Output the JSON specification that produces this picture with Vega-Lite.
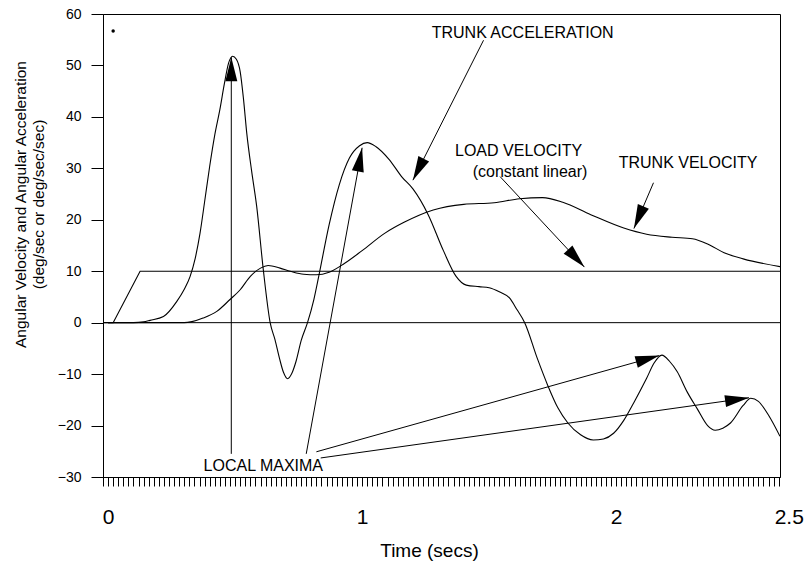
{
  "$schema": "https://vega.github.io/schema/vega-lite/v6.json",
  "width": 677,
  "height": 463,
  "autosize": {"type": "none"},
  "padding": {"left": 103, "top": 14, "right": 24, "bottom": 86},
  "background": "white",
  "config": {
    "view": {"stroke": "black", "strokeWidth": 1},
    "font": "Liberation Sans",
    "axis": {"labelFont": "Liberation Sans", "titleFont": "Liberation Sans"}
  },
  "datasets": {
    "curves": [
      {"s": "ta", "t": 0, "v": 0}, {"s": "ta", "t": 0.1, "v": 0}, {"s": "ta", "t": 0.14, "v": 0.15}, {"s": "ta", "t": 0.165, "v": 0.45},
      {"s": "ta", "t": 0.218, "v": 1.2}, {"s": "ta", "t": 0.27, "v": 4.1}, {"s": "ta", "t": 0.3, "v": 6.5}, {"s": "ta", "t": 0.323, "v": 9},
      {"s": "ta", "t": 0.343, "v": 12.5}, {"s": "ta", "t": 0.362, "v": 17.4}, {"s": "ta", "t": 0.38, "v": 23.5}, {"s": "ta", "t": 0.4, "v": 30.4},
      {"s": "ta", "t": 0.42, "v": 36.5}, {"s": "ta", "t": 0.44, "v": 41.4}, {"s": "ta", "t": 0.458, "v": 46.5}, {"s": "ta", "t": 0.474, "v": 50.4},
      {"s": "ta", "t": 0.49, "v": 51.8}, {"s": "ta", "t": 0.505, "v": 51.2}, {"s": "ta", "t": 0.52, "v": 48.8}, {"s": "ta", "t": 0.533, "v": 43.5},
      {"s": "ta", "t": 0.546, "v": 36.8}, {"s": "ta", "t": 0.565, "v": 29.5}, {"s": "ta", "t": 0.585, "v": 22.6}, {"s": "ta", "t": 0.611, "v": 10.3},
      {"s": "ta", "t": 0.638, "v": 0}, {"s": "ta", "t": 0.657, "v": -3.3}, {"s": "ta", "t": 0.675, "v": -7}, {"s": "ta", "t": 0.69, "v": -9.6},
      {"s": "ta", "t": 0.707, "v": -10.9}, {"s": "ta", "t": 0.722, "v": -10}, {"s": "ta", "t": 0.74, "v": -7.5}, {"s": "ta", "t": 0.76, "v": -3.5},
      {"s": "ta", "t": 0.785, "v": 0}, {"s": "ta", "t": 0.81, "v": 4.5}, {"s": "ta", "t": 0.83, "v": 9.2}, {"s": "ta", "t": 0.87, "v": 19},
      {"s": "ta", "t": 0.91, "v": 26.8}, {"s": "ta", "t": 0.95, "v": 32}, {"s": "ta", "t": 0.99, "v": 34.4}, {"s": "ta", "t": 1.02, "v": 35},
      {"s": "ta", "t": 1.055, "v": 34.2}, {"s": "ta", "t": 1.105, "v": 31.8}, {"s": "ta", "t": 1.157, "v": 28.3}, {"s": "ta", "t": 1.2, "v": 26},
      {"s": "ta", "t": 1.26, "v": 21}, {"s": "ta", "t": 1.32, "v": 14}, {"s": "ta", "t": 1.37, "v": 9}, {"s": "ta", "t": 1.41, "v": 7.3},
      {"s": "ta", "t": 1.46, "v": 7}, {"s": "ta", "t": 1.5, "v": 6.8}, {"s": "ta", "t": 1.54, "v": 6}, {"s": "ta", "t": 1.58, "v": 4.8},
      {"s": "ta", "t": 1.61, "v": 2.5}, {"s": "ta", "t": 1.64, "v": 0}, {"s": "ta", "t": 1.69, "v": -7}, {"s": "ta", "t": 1.73, "v": -12.1},
      {"s": "ta", "t": 1.77, "v": -16.5}, {"s": "ta", "t": 1.81, "v": -19.5}, {"s": "ta", "t": 1.86, "v": -21.8}, {"s": "ta", "t": 1.91, "v": -22.8},
      {"s": "ta", "t": 1.95, "v": -22.6}, {"s": "ta", "t": 1.99, "v": -21.5}, {"s": "ta", "t": 2.03, "v": -19}, {"s": "ta", "t": 2.07, "v": -15.5},
      {"s": "ta", "t": 2.12, "v": -10.8}, {"s": "ta", "t": 2.15, "v": -7.8}, {"s": "ta", "t": 2.18, "v": -6.3}, {"s": "ta", "t": 2.21, "v": -7.5},
      {"s": "ta", "t": 2.24, "v": -9.5}, {"s": "ta", "t": 2.28, "v": -13.5}, {"s": "ta", "t": 2.32, "v": -16.8}, {"s": "ta", "t": 2.36, "v": -20},
      {"s": "ta", "t": 2.39, "v": -20.9}, {"s": "ta", "t": 2.42, "v": -20.5}, {"s": "ta", "t": 2.45, "v": -19.5}, {"s": "ta", "t": 2.5, "v": -16.1},
      {"s": "ta", "t": 2.53, "v": -14.7}, {"s": "ta", "t": 2.56, "v": -15.3}, {"s": "ta", "t": 2.6, "v": -18}, {"s": "ta", "t": 2.645, "v": -22.1},
      {"s": "tv", "t": 0, "v": 0}, {"s": "tv", "t": 0.3, "v": 0}, {"s": "tv", "t": 0.33, "v": 0.2}, {"s": "tv", "t": 0.374, "v": 0.9},
      {"s": "tv", "t": 0.428, "v": 2.2}, {"s": "tv", "t": 0.48, "v": 4.5}, {"s": "tv", "t": 0.52, "v": 6.4}, {"s": "tv", "t": 0.56, "v": 9},
      {"s": "tv", "t": 0.6, "v": 10.6}, {"s": "tv", "t": 0.63, "v": 11.1}, {"s": "tv", "t": 0.677, "v": 10.6}, {"s": "tv", "t": 0.717, "v": 10},
      {"s": "tv", "t": 0.77, "v": 9.4}, {"s": "tv", "t": 0.82, "v": 9.3}, {"s": "tv", "t": 0.87, "v": 9.8}, {"s": "tv", "t": 0.93, "v": 11.5},
      {"s": "tv", "t": 1.0, "v": 14}, {"s": "tv", "t": 1.09, "v": 17.4}, {"s": "tv", "t": 1.165, "v": 19.5}, {"s": "tv", "t": 1.28, "v": 21.9},
      {"s": "tv", "t": 1.4, "v": 23}, {"s": "tv", "t": 1.52, "v": 23.3}, {"s": "tv", "t": 1.62, "v": 24.1}, {"s": "tv", "t": 1.71, "v": 24.3},
      {"s": "tv", "t": 1.79, "v": 23.4}, {"s": "tv", "t": 1.9, "v": 21}, {"s": "tv", "t": 2.03, "v": 18.4}, {"s": "tv", "t": 2.12, "v": 17.2},
      {"s": "tv", "t": 2.22, "v": 16.6}, {"s": "tv", "t": 2.3, "v": 16.3}, {"s": "tv", "t": 2.36, "v": 15.3}, {"s": "tv", "t": 2.425, "v": 13.6},
      {"s": "tv", "t": 2.5, "v": 12.4}, {"s": "tv", "t": 2.645, "v": 10.9}
    ],
    "load": [
      {"t": -0.02, "v": 0}, {"t": 0.02, "v": 0}, {"t": 0.126, "v": 10}, {"t": 2.645, "v": 10}
    ],
    "arrows": [
      {"x0": 0.485, "y0": -25.5, "x1": 0.485, "y1": 51.6},
      {"x0": 0.78, "y0": -25.5, "x1": 1.0, "y1": 34},
      {"x0": 0.82, "y0": -25.1, "x1": 2.17, "y1": -6.4},
      {"x0": 0.837, "y0": -26.3, "x1": 2.523, "y1": -14.6},
      {"x0": 1.478, "y0": 54.9, "x1": 1.2, "y1": 27.7},
      {"x0": 1.543, "y0": 28.4, "x1": 1.875, "y1": 10.8},
      {"x0": 2.147, "y0": 27.2, "x1": 2.07, "y1": 18.3}
    ],
    "labels": [
      {"label": "TRUNK ACCELERATION", "t": 1.632, "v": 56.4},
      {"label": "LOAD VELOCITY", "t": 1.616, "v": 33.4},
      {"label": "(constant linear)", "t": 1.661, "v": 29.3},
      {"label": "TRUNK VELOCITY", "t": 2.283, "v": 31.1},
      {"label": "LOCAL MAXIMA", "t": 0.611, "v": -27.9}
    ],
    "dot": [{"t": 0.02, "v": 56.7}],
    "zero": [{"v": 0}]
  },
  "layer": [
    {
      "data": {"name": "curves"},
      "mark": {"type": "line", "color": "black", "strokeWidth": 1.1, "interpolate": "monotone", "clip": true},
      "encoding": {
        "x": {
          "field": "t", "type": "quantitative",
          "scale": {"domain": [-0.02, 2.645], "nice": false, "zero": false},
          "axis": {
            "title": "Time (secs)", "tickCount": 133, "grid": false,
            "domainColor": "black", "tickColor": "black", "tickSize": 9, "tickWidth": 1,
            "labelExpr": "abs(datum.value) < 0.001 ? '0' : abs(datum.value - 1) < 0.001 ? '1' : abs(datum.value - 2) < 0.001 ? '2' : datum.value > 2.63 ? '2.5' : ''",
            "labelFlush": false, "labelOverlap": false, "labelBound": false,
            "labelFontSize": 21, "labelColor": "black", "labelPadding": 20,
            "labelOffset": {"condition": {"test": "datum.value > 2.63", "value": 10}, "value": 0},
            "titleFontSize": 19, "titleFontWeight": "normal", "titleColor": "black",
            "titleX": 326, "titleY": 73, "titleBaseline": "middle", "titleAlign": "center"
          }
        },
        "y": {
          "field": "v", "type": "quantitative",
          "scale": {"domain": [-30, 60], "nice": false, "zero": false},
          "axis": {
            "title": ["Angular Velocity and Angular Acceleration", "(deg/sec or deg/sec/sec)"],
            "tickCount": 9, "grid": false,
            "domainColor": "black", "tickColor": "black", "tickSize": 12, "tickWidth": 1,
            "labelFontSize": 14, "labelColor": "black", "labelPadding": 10,
            "titleFontSize": 15.5, "titleFontWeight": "normal", "titleColor": "black",
            "titleX": -83, "titleY": 190, "titleBaseline": "middle", "titleLineHeight": 18, "titleAngle": -90, "titleAlign": "center"
          }
        },
        "detail": {"field": "s", "type": "nominal"}
      }
    },
    {
      "data": {"name": "zero"},
      "mark": {"type": "rule", "color": "black", "strokeWidth": 1},
      "encoding": {
        "y": {"field": "v", "type": "quantitative", "scale": {"domain": [-30, 60], "nice": false, "zero": false}}
      }
    },
    {
      "data": {"name": "load"},
      "mark": {"type": "line", "color": "black", "strokeWidth": 1.1, "clip": true},
      "encoding": {
        "x": {"field": "t", "type": "quantitative", "scale": {"domain": [-0.02, 2.645], "nice": false, "zero": false}},
        "y": {"field": "v", "type": "quantitative", "scale": {"domain": [-30, 60], "nice": false, "zero": false}}
      }
    },
    {
      "data": {"name": "arrows"},
      "mark": {"type": "rule", "color": "black", "strokeWidth": 1},
      "encoding": {
        "x": {"field": "x0", "type": "quantitative", "scale": {"domain": [-0.02, 2.645], "nice": false, "zero": false}},
        "y": {"field": "y0", "type": "quantitative", "scale": {"domain": [-30, 60], "nice": false, "zero": false}},
        "x2": {"field": "x1"},
        "y2": {"field": "y1"}
      }
    },
    {
      "data": {"name": "arrows"},
      "transform": [
        {"calculate": "atan2((datum.x1 - datum.x0) * 254, (datum.y1 - datum.y0) * 5.144) * 180 / PI", "as": "ang"}
      ],
      "mark": {"type": "point", "shape": "M0,0L0.5,2L-0.5,2Z", "filled": true, "color": "black", "opacity": 1, "size": 576, "strokeWidth": 0},
      "encoding": {
        "x": {"field": "x1", "type": "quantitative", "scale": {"domain": [-0.02, 2.645], "nice": false, "zero": false}},
        "y": {"field": "y1", "type": "quantitative", "scale": {"domain": [-30, 60], "nice": false, "zero": false}},
        "angle": {"field": "ang", "type": "quantitative", "scale": null}
      }
    },
    {
      "data": {"name": "labels"},
      "mark": {"type": "text", "fontSize": 16, "font": "Liberation Sans", "color": "black", "align": "center", "baseline": "middle"},
      "encoding": {
        "x": {"field": "t", "type": "quantitative", "scale": {"domain": [-0.02, 2.645], "nice": false, "zero": false}},
        "y": {"field": "v", "type": "quantitative", "scale": {"domain": [-30, 60], "nice": false, "zero": false}},
        "text": {"field": "label", "type": "nominal"}
      }
    },
    {
      "data": {"name": "dot"},
      "mark": {"type": "point", "shape": "circle", "filled": true, "color": "black", "opacity": 1, "size": 12},
      "encoding": {
        "x": {"field": "t", "type": "quantitative", "scale": {"domain": [-0.02, 2.645], "nice": false, "zero": false}},
        "y": {"field": "v", "type": "quantitative", "scale": {"domain": [-30, 60], "nice": false, "zero": false}}
      }
    }
  ]
}
